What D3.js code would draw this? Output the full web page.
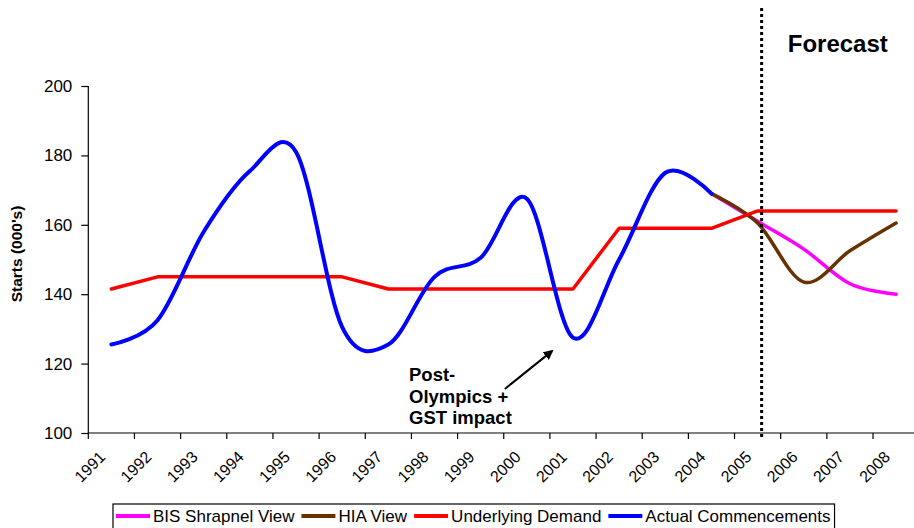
<!DOCTYPE html>
<html>
<head>
<meta charset="utf-8">
<script src="https://cdn.jsdelivr.net/npm/d3@7"></script>
<style>
  html, body { margin: 0; padding: 0; background: #fff; }
  svg { display: block; font-family: "Liberation Sans", Arial, sans-serif; }
</style>
</head>
<body>
<svg id="chart" width="914" height="528"></svg>
<script>
// Housing starts, actual vs. underlying demand and two forecast views (000's)
const years = ["1991","1992","1993","1994","1995","1996","1997","1998","1999",
               "2000","2001","2002","2003","2004","2005","2006","2007","2008"];

const actualYears = years.slice(0, 14);            // 1991–2004
const actualValues = [125.5, 132.5, 158, 175.5, 181, 130.5, 125.5, 145, 150.5,
                      167.5, 127.5, 150, 175, 169];

const underlyingValues = [141.5, 145, 145, 145, 145, 145, 141.5, 141.5, 141.5,
                          141.5, 141.5, 159, 159, 159, 164, 164, 164, 164];

const forecastYears = ["2004","2005","2006","2007","2008"];
const bisValues = [169, 161, 153, 143, 140];
const hiaValues = [169, 160.5, 143.5, 152.5, 160.5];

const yTicks = [100, 120, 140, 160, 180, 200];

const seriesInfo = [
  { name: "BIS Shrapnel View",    color: "#ff00ff", width: 3.5, smooth: true,  xs: forecastYears, vs: bisValues },
  { name: "HIA View",             color: "#663300", width: 3.5, smooth: true,  xs: forecastYears, vs: hiaValues },
  { name: "Underlying Demand",    color: "#ff0000", width: 3.5, smooth: false, xs: years,         vs: underlyingValues },
  { name: "Actual Commencements", color: "#0000ff", width: 4,   smooth: true,  xs: actualYears,   vs: actualValues }
];

const svg = d3.select("#chart");

const plotLeft = 88.3, plotTop = 86, plotBottom = 433;
const band = 46.16;
const x = d3.scaleBand().domain(years).range([plotLeft, plotLeft + band * years.length]).padding(0);
const y = d3.scaleLinear().domain([100, 200]).range([plotBottom, plotTop]);
const xc = d => x(d) + x.bandwidth() / 2;

// Series lines (first series drawn underneath)
const plot = svg.append("g");
seriesInfo.forEach(s => {
  const pts = s.xs.map((d, i) => [xc(d), y(s.vs[i])]);
  const line = d3.line()
    .curve(s.smooth ? d3.curveCatmullRom.alpha(0) : d3.curveLinear);
  plot.append("path")
    .attr("d", line(pts))
    .attr("fill", "none")
    .attr("stroke", s.color)
    .attr("stroke-width", s.width)
    .attr("stroke-linejoin", "round")
    .attr("stroke-linecap", "round");
});

// Y axis
const yAxis = svg.append("g")
  .attr("transform", `translate(${plotLeft},0)`)
  .call(d3.axisLeft(y).tickValues(yTicks).tickSize(7).tickPadding(9).tickFormat(d3.format("d")));
yAxis.select(".domain").attr("stroke", "#000").attr("stroke-width", 1.2).attr("d", `M0,${plotTop}V${plotBottom}`);
yAxis.selectAll(".tick line").attr("stroke", "#000").attr("stroke-width", 1.2);
yAxis.selectAll(".tick text")
  .attr("font-family", "Liberation Sans, Arial, sans-serif")
  .attr("font-size", 17).attr("fill", "#000");

// X axis: category boundaries carry the ticks
const xAxis = svg.append("g").attr("transform", `translate(0,${plotBottom})`);
xAxis.append("line")
  .attr("x1", plotLeft).attr("x2", 914)
  .attr("stroke", "#000").attr("stroke-width", 1.2);
xAxis.selectAll("line.tk").data(years).join("line")
  .attr("class", "tk")
  .attr("x1", d => x(d)).attr("x2", d => x(d))
  .attr("y1", 0).attr("y2", 6)
  .attr("stroke", "#000").attr("stroke-width", 1.2);
xAxis.selectAll("text").data(years).join("text")
  .attr("transform", d => `translate(${xc(d) - 5},25) rotate(-45)`)
  .attr("text-anchor", "end")
  .attr("font-size", 16)
  .attr("fill", "#000")
  .text(d => d);

// Y axis title
svg.append("text")
  .attr("transform", `translate(22,254) rotate(-90)`)
  .attr("text-anchor", "middle")
  .attr("font-size", 15.5)
  .attr("font-weight", "bold")
  .text("Starts (000's)");

// Forecast divider
const divX = xc("2005") + 4;
svg.append("line")
  .attr("x1", divX).attr("x2", divX)
  .attr("y1", 8).attr("y2", 440)
  .attr("stroke", "#000").attr("stroke-width", 3)
  .attr("stroke-dasharray", "3,3");
svg.append("text")
  .attr("x", xc("2006") - 16).attr("y", 52)
  .attr("font-size", 24).attr("font-weight", "bold")
  .text("Forecast");

// Annotation with arrow
svg.append("defs").append("marker")
  .attr("id", "arrowhead")
  .attr("viewBox", "0 0 10 10").attr("refX", 8).attr("refY", 5)
  .attr("markerWidth", 5).attr("markerHeight", 5)
  .attr("orient", "auto")
  .append("path").attr("d", "M0,0L10,5L0,10Z").attr("fill", "#000");

svg.append("line")
  .attr("x1", xc("2000") - 22).attr("y1", y(112.7))
  .attr("x2", xc("2001") - 21).attr("y2", y(123.6))
  .attr("stroke", "#000").attr("stroke-width", 2)
  .attr("marker-end", "url(#arrowhead)");

const note = svg.append("text")
  .attr("font-size", 18.5).attr("font-weight", "bold");
["Post-", "Olympics +", "GST impact"].forEach((t, i) => {
  note.append("tspan")
    .attr("x", xc("1998") - 25.5)
    .attr("y", y(115) + i * 21.7)
    .text(t);
});

// Legend
const legend = svg.append("g");
const legY = 516;
let lx = 116;
seriesInfo.forEach(s => {
  legend.append("line")
    .attr("x1", lx).attr("x2", lx + 34)
    .attr("y1", legY).attr("y2", legY)
    .attr("stroke", s.color).attr("stroke-width", 4);
  const t = legend.append("text")
    .attr("x", lx + 37).attr("y", legY + 6)
    .attr("font-size", 17)
    .text(s.name);
  lx = lx + 37 + t.node().getComputedTextLength() + 7;
});
legend.insert("rect", ":first-child")
  .attr("x", 113).attr("y", 504)
  .attr("width", lx - 7 + 4 - 113).attr("height", 40)
  .attr("fill", "#fff").attr("stroke", "#000").attr("stroke-width", 1.2);
</script>
</body>
</html>
